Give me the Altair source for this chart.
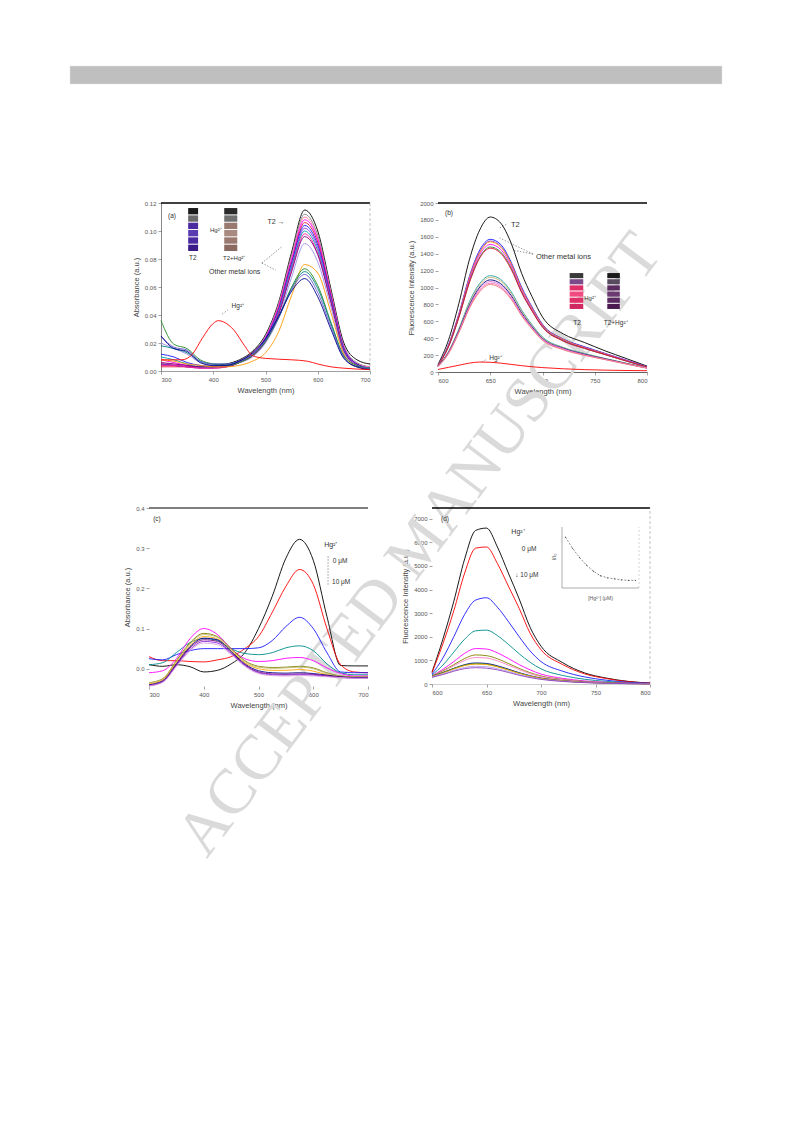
import altair as alt
import pandas as pd

FONT = "Liberation Sans"

# ---------------- panel (a): UV-vis of T2 with metal ions ----------------
wl_a = [300, 325, 350, 375, 400, 425, 450, 475, 500, 525, 550, 575, 600, 625, 650, 675, 700]
a_T2 = [0.005, 0.004, 0.003, 0.003, 0.004, 0.005, 0.008, 0.014, 0.026, 0.049, 0.085, 0.115, 0.100, 0.059, 0.020, 0.008, 0.005]
a_Na = [0.004, 0.004, 0.003, 0.003, 0.003, 0.004, 0.007, 0.013, 0.025, 0.048, 0.083, 0.112, 0.097, 0.057, 0.018, 0.006, 0.003]
a_K = [0.006, 0.005, 0.004, 0.003, 0.003, 0.004, 0.007, 0.013, 0.024, 0.047, 0.081, 0.110, 0.095, 0.056, 0.017, 0.005, 0.003]
a_Mg = [0.008, 0.006, 0.004, 0.003, 0.003, 0.004, 0.007, 0.012, 0.024, 0.046, 0.080, 0.108, 0.094, 0.055, 0.017, 0.005, 0.002]
a_Ca = [0.003, 0.003, 0.003, 0.003, 0.003, 0.004, 0.007, 0.012, 0.023, 0.045, 0.078, 0.106, 0.092, 0.054, 0.016, 0.005, 0.002]
a_Ba = [0.012, 0.010, 0.006, 0.004, 0.003, 0.004, 0.007, 0.012, 0.023, 0.044, 0.077, 0.104, 0.090, 0.053, 0.016, 0.005, 0.002]
a_Mn = [0.005, 0.004, 0.003, 0.002, 0.002, 0.003, 0.006, 0.011, 0.022, 0.043, 0.075, 0.102, 0.088, 0.052, 0.015, 0.004, 0.002]
a_Fe = [0.010, 0.008, 0.005, 0.003, 0.003, 0.004, 0.006, 0.011, 0.022, 0.042, 0.074, 0.100, 0.086, 0.051, 0.015, 0.004, 0.002]
a_Co = [0.004, 0.004, 0.003, 0.002, 0.002, 0.003, 0.006, 0.011, 0.021, 0.041, 0.072, 0.098, 0.084, 0.050, 0.014, 0.004, 0.001]
a_Ni = [0.006, 0.005, 0.004, 0.003, 0.003, 0.003, 0.006, 0.011, 0.021, 0.040, 0.071, 0.096, 0.083, 0.049, 0.014, 0.004, 0.001]
a_Cu = [0.020, 0.016, 0.012, 0.006, 0.004, 0.004, 0.006, 0.010, 0.020, 0.038, 0.067, 0.091, 0.078, 0.046, 0.013, 0.004, 0.001]
a_Zn = [0.008, 0.007, 0.005, 0.004, 0.003, 0.003, 0.004, 0.007, 0.013, 0.028, 0.054, 0.076, 0.070, 0.042, 0.012, 0.003, 0.001]
a_Cd = [0.036, 0.019, 0.016, 0.008, 0.005, 0.004, 0.006, 0.011, 0.021, 0.038, 0.060, 0.073, 0.061, 0.035, 0.011, 0.004, 0.002]
a_Pb = [0.018, 0.016, 0.013, 0.007, 0.005, 0.005, 0.007, 0.012, 0.022, 0.038, 0.059, 0.071, 0.059, 0.034, 0.010, 0.003, 0.002]
a_Ag = [0.025, 0.017, 0.015, 0.007, 0.005, 0.005, 0.007, 0.012, 0.022, 0.038, 0.058, 0.069, 0.056, 0.032, 0.010, 0.003, 0.002]
a_Al = [0.025, 0.016, 0.014, 0.006, 0.004, 0.004, 0.007, 0.013, 0.023, 0.039, 0.057, 0.066, 0.053, 0.030, 0.009, 0.003, 0.001]
wl_a_hg = [300, 340, 360, 380, 400, 410, 420, 440, 460, 475, 500, 550, 580, 600, 625, 650, 700]
a_Hg = [0.008, 0.008, 0.012, 0.024, 0.034, 0.036, 0.035, 0.029, 0.018, 0.011, 0.009, 0.008, 0.007, 0.005, 0.003, 0.002, 0.001]

names_a = ["T2", "Na+", "K+", "Mg2+", "Ca2+", "Ba2+", "Mn2+", "Fe3+", "Co2+", "Ni2+",
           "Cu2+", "Zn2+", "Cd2+", "Pb2+", "Ag+", "Al3+"]
series_a = [a_T2, a_Na, a_K, a_Mg, a_Ca, a_Ba, a_Mn, a_Fe, a_Co, a_Ni, a_Cu, a_Zn, a_Cd, a_Pb, a_Ag, a_Al]
colors_a = ["#000000", "#808080", "#ff77aa", "#ff00ff", "#e0103a", "#1a1aff", "#8a2be2", "#00a0b0",
            "#ff1493", "#800080", "#9a8ae8", "#ff9900", "#228b22", "#008080", "#6a5acd", "#00008b"]

# ---------------- panel (b): fluorescence of T2 with metal ions ----------------
wl_b = [600, 610, 620, 630, 640, 650, 660, 670, 680, 690, 700, 720, 740, 760, 780, 800]
b_T2 = [90, 376, 812, 1327, 1683, 1834, 1762, 1525, 1168, 891, 650, 450, 350, 250, 160, 70]
b_1 = [80, 320, 690, 1130, 1445, 1570, 1510, 1300, 1005, 770, 565, 390, 300, 220, 140, 65]
b_2 = [80, 315, 680, 1115, 1425, 1550, 1490, 1285, 990, 760, 555, 385, 295, 215, 140, 60]
b_3 = [78, 310, 675, 1110, 1415, 1540, 1480, 1280, 985, 755, 555, 385, 290, 215, 135, 60]
b_4 = [76, 305, 665, 1090, 1390, 1510, 1450, 1255, 965, 740, 545, 375, 285, 210, 135, 60]
b_5 = [75, 300, 650, 1065, 1360, 1480, 1420, 1230, 945, 725, 535, 370, 280, 205, 130, 58]
b_6 = [74, 295, 645, 1055, 1350, 1465, 1405, 1215, 940, 720, 530, 365, 280, 205, 130, 58]
b_7 = [70, 240, 510, 830, 1050, 1140, 1095, 950, 735, 560, 415, 290, 220, 160, 105, 50]
b_8 = [68, 235, 500, 815, 1030, 1120, 1075, 930, 720, 550, 405, 285, 215, 158, 102, 50]
b_9 = [68, 230, 490, 790, 1005, 1090, 1045, 905, 700, 535, 395, 280, 210, 155, 100, 48]
b_10 = [66, 225, 480, 775, 985, 1070, 1025, 890, 685, 525, 390, 275, 205, 150, 98, 47]
b_11 = [65, 220, 470, 760, 965, 1050, 1005, 870, 675, 515, 380, 268, 200, 148, 96, 46]
b_12 = [64, 215, 465, 750, 950, 1035, 990, 860, 665, 508, 375, 262, 198, 146, 95, 45]
b_Hg = [30, 55, 80, 105, 118, 115, 105, 90, 75, 62, 52, 38, 28, 22, 18, 15]

names_b = ["T2", "Ba2+", "Mn2+", "Zn2+", "Mg2+", "Cd2+", "Ca2+", "Pb2+", "Fe3+", "Al3+",
           "Ni2+", "Co2+", "K+", "Hg2+"]
series_b = [b_T2, b_1, b_2, b_3, b_4, b_5, b_6, b_7, b_8, b_9, b_10, b_11, b_12, b_Hg]
colors_b = ["#000000", "#1a1aff", "#7a3ae0", "#ff9900", "#ff00ff", "#2a8a2a", "#e0103a", "#20a0a0",
            "#c8b070", "#000080", "#da70d6", "#ff69b4", "#f08080", "#ff0000"]

# ---------------- panel (c): UV-vis titration with Hg2+ ----------------
wl_c = [300, 325, 350, 375, 400, 425, 450, 475, 500, 525, 550, 575, 600, 625, 650, 675, 700]
c_0 = [0.010, 0.006, 0.010, 0.005, -0.008, -0.004, 0.012, 0.040, 0.100, 0.180, 0.275, 0.322, 0.270, 0.130, 0.008, 0.007, 0.007]
c_1 = [0.030, 0.020, 0.020, 0.018, 0.017, 0.022, 0.030, 0.050, 0.080, 0.140, 0.205, 0.247, 0.210, 0.100, 0.010, -0.008, -0.010]
c_2 = [0.025, 0.022, 0.035, 0.045, 0.050, 0.050, 0.050, 0.050, 0.052, 0.070, 0.105, 0.128, 0.100, 0.040, -0.008, -0.010, -0.010]
c_3 = [0.010, 0.015, 0.040, 0.065, 0.075, 0.070, 0.050, 0.038, 0.035, 0.040, 0.052, 0.057, 0.045, 0.012, -0.010, -0.015, -0.015]
c_4 = [-0.010, -0.005, 0.025, 0.075, 0.100, 0.085, 0.050, 0.025, 0.018, 0.020, 0.026, 0.028, 0.020, 0.002, -0.012, -0.018, -0.018]
c_5 = [-0.035, -0.025, 0.020, 0.065, 0.088, 0.080, 0.050, 0.020, 0.006, 0.003, 0.004, 0.006, 0.002, -0.010, -0.018, -0.020, -0.020]
c_6 = [-0.035, -0.025, 0.018, 0.062, 0.085, 0.078, 0.048, 0.018, 0.004, 0.001, 0.002, 0.004, 0.000, -0.012, -0.019, -0.021, -0.021]
c_7 = [-0.038, -0.028, 0.015, 0.058, 0.080, 0.074, 0.045, 0.015, 0.000, -0.004, -0.004, -0.002, -0.006, -0.015, -0.020, -0.022, -0.022]
c_8 = [-0.040, -0.030, 0.012, 0.055, 0.076, 0.072, 0.043, 0.012, -0.005, -0.010, -0.011, -0.010, -0.012, -0.016, -0.020, -0.022, -0.022]
c_9 = [-0.042, -0.032, 0.010, 0.052, 0.072, 0.068, 0.040, 0.010, -0.008, -0.013, -0.014, -0.013, -0.014, -0.018, -0.021, -0.023, -0.023]
c_10 = [-0.042, -0.033, 0.008, 0.048, 0.068, 0.064, 0.038, 0.008, -0.010, -0.015, -0.016, -0.015, -0.016, -0.019, -0.022, -0.023, -0.023]
c_11 = [-0.043, -0.034, 0.005, 0.045, 0.064, 0.060, 0.035, 0.006, -0.012, -0.017, -0.018, -0.017, -0.018, -0.020, -0.022, -0.024, -0.024]

names_c = ["0 μM", "1 μM", "2 μM", "3 μM", "4 μM", "5 μM", "6 μM", "7 μM", "8 μM", "9 μM", "10 μM", "11 μM"]
series_c = [c_0, c_1, c_2, c_3, c_4, c_5, c_6, c_7, c_8, c_9, c_10, c_11]
colors_c = ["#000000", "#ff0000", "#1a1aff", "#008b8b", "#ff00ff", "#808000", "#bdb76b", "#ffa500",
            "#00008b", "#800080", "#8a2be2", "#dda0dd"]

# ---------------- panel (d): fluorescence titration with Hg2+ ----------------
wl_d = [600, 610, 620, 630, 640, 650, 660, 670, 680, 690, 700, 720, 740, 760, 780, 800]
d_0 = [500, 1900, 3500, 5300, 6500, 6600, 5800, 4700, 3600, 2400, 1600, 900, 470, 250, 110, 40]
d_1 = [480, 1700, 3100, 4700, 5750, 5800, 5100, 4150, 3200, 2150, 1450, 820, 430, 230, 100, 40]
d_2 = [420, 1100, 2000, 2950, 3550, 3650, 3250, 2650, 2000, 1400, 950, 540, 300, 160, 70, 30]
d_3 = [380, 800, 1350, 1900, 2250, 2280, 2050, 1680, 1280, 920, 640, 360, 200, 110, 50, 20]
d_4 = [350, 620, 950, 1300, 1500, 1480, 1320, 1080, 820, 600, 420, 240, 130, 70, 35, 15]
d_5 = [340, 560, 820, 1080, 1230, 1200, 1070, 870, 660, 480, 340, 195, 105, 55, 28, 12]
d_6 = [330, 530, 770, 1000, 1120, 1100, 980, 800, 610, 440, 310, 180, 95, 50, 25, 10]
d_7 = [320, 480, 660, 820, 890, 870, 770, 630, 480, 350, 250, 140, 75, 40, 20, 8]
d_8 = [330, 490, 660, 800, 860, 840, 740, 600, 460, 335, 240, 135, 72, 38, 18, 8]
d_9 = [310, 460, 630, 780, 840, 820, 725, 590, 450, 330, 235, 130, 70, 36, 17, 7]
d_10 = [300, 430, 580, 700, 750, 730, 650, 530, 400, 295, 210, 118, 62, 32, 15, 6]
d_11 = [280, 400, 540, 650, 690, 670, 600, 490, 370, 270, 195, 108, 57, 30, 14, 5]

names_d = names_c
series_d = [d_0, d_1, d_2, d_3, d_4, d_5, d_6, d_7, d_8, d_9, d_10, d_11]
colors_d = ["#000000", "#ff0000", "#1a1aff", "#008b8b", "#ff00ff", "#808000", "#ff80c0", "#00008b",
            "#228b22", "#ffa500", "#b0a0e8", "#9040c0"]

# inset of (d): relative intensity vs [Hg2+]
inset_conc = [0, 1, 2, 3, 4, 5, 6, 7, 8, 9, 10]
inset_ratio = [1.0, 0.78, 0.60, 0.45, 0.33, 0.24, 0.20, 0.18, 0.16, 0.15, 0.15]

# vial photo swatch colours (top to bottom)
swatch_a_T2 = ["#1a1a1a", "#6a6a6a", "#4b2aa0", "#5b3cb0", "#4b2aa0", "#3a1c88"]
swatch_a_Hg = ["#2a2a2a", "#707070", "#9a7a70", "#a88a80", "#9a7a70", "#8a6a60"]
swatch_b_T2 = ["#3a3a3a", "#7a4a8a", "#e0306a", "#f04a80", "#e0306a", "#d02860"]
swatch_b_Hg = ["#1a1a1a", "#5a4a60", "#5a2a60", "#6a3a70", "#5a2a60", "#4a1a50"]

# ---------------- page layout (pixels inside the canvas) ----------------
W, H = 720, 720
BOX_A = (153, 362, 195, 363)   # left, right, top, bottom
BOX_B = (430, 639, 195, 364)
BOX_C = (141, 360, 500, 678)
BOX_D = (424, 642, 500, 676)


# ---------------- helpers ----------------
def long_df(wl, series, names, colors):
    rows = []
    for n, vals, c in zip(names, series, colors):
        for w, v in zip(wl, vals):
            rows.append({"wl": w, "v": v, "s": n, "col": c})
    return pd.DataFrame(rows)


def mk_axis(values, fmt, title, orient, offset, domain=True, dcolor="#777777"):
    return alt.Axis(values=values, format=fmt, title=title, orient=orient, offset=offset,
                    labelFontSize=6, titleFontSize=7.5,
                    labelColor="#555555", titleColor="#444444", tickColor="#666666", tickSize=3,
                    tickWidth=0.6, domain=domain, domainColor=dcolor, domainWidth=0.7, grid=False,
                    labelFont=FONT, titleFont=FONT, labelPadding=2, titlePadding=4,
                    titleFontWeight="normal")


def swatch_df(x0, x1, top, bottom, colors, gap):
    step = (top - bottom) / len(colors)
    rows = []
    for i, c in enumerate(colors):
        rows.append({"x": x0, "x2": x1, "y": top - i * step, "y2": top - (i + 1) * step + gap, "c": c})
    return pd.DataFrame(rows)


def panel(box, wl, series, names, colors, xdom, ydom, xvals, xfmt, yvals, yfmt, ytitle,
          texts, rules, swatches, xdomain=True, xdcolor="#777777", ydomain=True, ydcolor="#555555",
          extra_lines=None, right_frame=False, top_color="#000000"):
    left, right, top, bottom = box
    xs = alt.Scale(domain=xdom, range=[left, right], nice=False, zero=False)
    ys = alt.Scale(domain=ydom, range=[bottom, top], nice=False, zero=False)
    xax = mk_axis(xvals, xfmt, "Wavelength (nm)", "bottom", -(H - bottom), xdomain, xdcolor)
    yax = mk_axis(yvals, yfmt, ytitle, "left", -left, ydomain, ydcolor)
    X = lambda f: alt.X(f, type="quantitative", scale=xs, axis=xax)
    Y = lambda f: alt.Y(f, type="quantitative", scale=ys, axis=yax)
    layers = []
    frame = pd.DataFrame({"x": [xdom[0]], "x2": [xdom[1]], "y": [ydom[1]], "y2": [ydom[1]]})
    layers.append(alt.Chart(frame).mark_rule(color=top_color, strokeWidth=1.4).encode(
        x=X("x"), x2="x2", y=Y("y"), y2="y2"))
    if right_frame:
        rf = pd.DataFrame({"x": [xdom[1]], "x2": [xdom[1]], "y": [ydom[0]], "y2": [ydom[1]]})
        layers.append(alt.Chart(rf).mark_rule(color="#aaaaaa", strokeWidth=0.7, strokeDash=[3, 2]).encode(
            x=X("x"), x2="x2", y=Y("y"), y2="y2"))
    df = long_df(wl, series, names, colors)
    layers.append(alt.Chart(df).mark_line(interpolate="monotone", strokeWidth=0.9).encode(
        x=X("wl"), y=Y("v"), detail="s:N", color=alt.Color("col:N", scale=None)))
    if extra_lines:
        for (ewl, evals, ecol) in extra_lines:
            layers.append(alt.Chart(pd.DataFrame({"wl": ewl, "v": evals})).mark_line(
                interpolate="monotone", strokeWidth=0.9, color=ecol).encode(x=X("wl"), y=Y("v")))
    for sdf in swatches:
        layers.append(alt.Chart(sdf).mark_rect().encode(
            x=X("x"), x2="x2", y=Y("y"), y2="y2", color=alt.Color("c:N", scale=None)))
    if rules is not None:
        layers.append(alt.Chart(rules).mark_rule(strokeWidth=0.6, color="#555555", strokeDash=[1.5, 1.5]).encode(
            x=X("x"), x2="x2", y=Y("y"), y2="y2"))
    for size in sorted(texts["size"].unique()):
        sub = texts[texts["size"] == size]
        layers.append(alt.Chart(sub).mark_text(font=FONT, fontSize=float(size), color="#333333",
                                               align="center", baseline="middle").encode(
            x=X("x"), y=Y("y"), text="t:N"))
    return alt.layer(*layers)


# ---------------- panel (a) ----------------
texts_a = pd.DataFrame({
    "t": ["(a)", "T2", "T2+Hg²⁺", "Hg²⁺", "T2 →", "Other metal ions", "Hg²⁺"],
    "x": [321, 361, 440, 405, 520, 441, 447],
    "y": [0.111, 0.0805, 0.0805, 0.1005, 0.1064, 0.0707, 0.0464],
    "size": [6.5, 6.5, 6, 6, 7, 7, 6.5]})
rules_a = pd.DataFrame({"x": [493, 493, 417], "y": [0.0771, 0.0771, 0.0407],
                        "x2": [533, 520, 428], "y2": [0.0893, 0.0720, 0.0436]})
sw_a = [swatch_df(352, 371, 0.1164, 0.085, swatch_a_T2, 0.0007),
        swatch_df(421, 446, 0.1164, 0.085, swatch_a_Hg, 0.0007)]
pa = panel(BOX_A, wl_a, series_a, names_a, colors_a, [300, 700], [0, 0.12],
           [300, 400, 500, 600, 700], "d", [0, 0.02, 0.04, 0.06, 0.08, 0.10, 0.12], ".2f",
           "Absorbance (a.u.)", texts_a, rules_a, sw_a,
           extra_lines=[(wl_a_hg, a_Hg, "#ff0000")], right_frame=True)

# ---------------- panel (b) ----------------
texts_b = pd.DataFrame({
    "t": ["(b)", "T2", "Other metal ions", "Hg²⁺", "T2", "T2+Hg²⁺", "Hg²⁺"],
    "x": [610.5, 674, 720, 745.5, 733, 770, 655],
    "y": [1882, 1740, 1361, 876, 580, 580, 166],
    "size": [6.5, 7.5, 7.5, 6, 6.5, 6.5, 6.5]})
rules_b = pd.DataFrame({"x": [659, 691, 691, 642], "y": [1704, 1396, 1396, 118],
                        "x2": [666, 659, 671, 647], "y2": [1751, 1586, 1444, 154]})
sw_b = [swatch_df(726, 739, 1171, 734, swatch_b_T2, 12),
        swatch_df(762, 774, 1171, 734, swatch_b_Hg, 12)]
pb = panel(BOX_B, wl_b, series_b, names_b, colors_b, [600, 800], [0, 2000],
           [600, 650, 700, 750, 800], "d", list(range(0, 2001, 200)), "d",
           "Fluorescence Intensity (a.u.)", texts_b, rules_b, sw_b,
           xdcolor="#222222", ydomain=False)

# ---------------- panel (c) ----------------
texts_c = pd.DataFrame({
    "t": ["(c)", "Hg²⁺", "0 μM", "10 μM"],
    "x": [314.6, 632, 649, 651],
    "y": [0.373, 0.308, 0.268, 0.216],
    "size": [6.5, 7, 6.5, 6.5]})
rules_c = pd.DataFrame({"x": [627], "y": [0.280], "x2": [627], "y2": [0.208]})
pc = panel(BOX_C, wl_c, series_c, names_c, colors_c, [300, 700], [-0.043, 0.4],
           [300, 400, 500, 600, 700], "d", [0, 0.1, 0.2, 0.3, 0.4], ".1f",
           "Absorbance (a.u.)", texts_c, rules_c, [],
           xdomain=False, ydomain=False, top_color="#555555")

# ---------------- panel (d) ----------------
texts_d = pd.DataFrame({
    "t": ["(d)", "Hg²⁺", "0 μM", "↓ 10 μM"],
    "x": [611.9, 678.9, 689, 687],
    "y": [6984, 6434, 5714, 4614],
    "size": [6.5, 7, 6.5, 6.5]})
pdm = panel(BOX_D, wl_d, series_d, names_d, colors_d, [600, 800], [0, 7450],
            [600, 650, 700, 750, 800], "d", list(range(0, 7001, 1000)), "d",
            "Fluorescence Intensity (a.u.)", texts_d, None, [],
            xdcolor="#bbbbbb", ydomain=False, right_frame=True)

# inset inside (d)
dl, dr, dt, db = BOX_D
ixs = alt.Scale(domain=[-0.5, 10.5], range=[dl + 130, dl + 207], nice=False, zero=False)
iys = alt.Scale(domain=[0, 1.2], range=[dt + 80, dt + 19], nice=False, zero=False)
IX = lambda f: alt.X(f, type="quantitative", scale=ixs, axis=None)
IY = lambda f: alt.Y(f, type="quantitative", scale=iys, axis=None)
inset_df = pd.DataFrame({"c": inset_conc, "r": inset_ratio})
inset_frame = pd.DataFrame({"x": [-0.5, -0.5], "y": [0, 0], "x2": [-0.5, 10.5], "y2": [1.2, 0]})
inset_right = pd.DataFrame({"x": [10.5], "y": [0], "x2": [10.5], "y2": [1.2]})
inset_texts = pd.DataFrame({"t": ["[Hg²⁺] (μM)"], "x": [5.0], "y": [-0.2]})
inset_ytext = pd.DataFrame({"t": ["I/I₀"], "x": [-1.6], "y": [0.61]})
inset = alt.layer(
    alt.Chart(inset_frame).mark_rule(color="#777777", strokeWidth=0.6).encode(
        x=IX("x"), x2="x2", y=IY("y"), y2="y2"),
    alt.Chart(inset_right).mark_rule(color="#bbbbbb", strokeWidth=0.6, strokeDash=[2, 2]).encode(
        x=IX("x"), x2="x2", y=IY("y"), y2="y2"),
    alt.Chart(inset_df).mark_line(color="#444444", strokeWidth=0.6, strokeDash=[2, 1.5]).encode(
        x=IX("c"), y=IY("r")),
    alt.Chart(inset_df).mark_point(color="#333333", size=2, filled=True).encode(x=IX("c"), y=IY("r")),
    alt.Chart(inset_texts).mark_text(font=FONT, fontSize=5, color="#555555").encode(
        x=IX("x"), y=IY("y"), text="t:N"),
    alt.Chart(inset_ytext).mark_text(font=FONT, fontSize=5.5, color="#555555", angle=270).encode(
        x=IX("x"), y=IY("y"), text="t:N"),
)

# ---------------- page decorations: grey header band and watermark ----------------
page_deco = alt.layer(
    alt.Chart(pd.DataFrame({"t": ["ACCEPTED MANUSCRIPT"]})).mark_text(
        font="Liberation Serif", fontSize=64, color="#dadada", angle=307, align="center",
        baseline="middle").encode(text="t:N", x=alt.value(412), y=alt.value(537)),
    alt.Chart(pd.DataFrame({"z": [0]})).mark_rect(color="#bfbfbf", stroke="#e6e6e6", strokeWidth=0.5).encode(
        x=alt.value(62), x2=alt.value(714), y=alt.value(58), y2=alt.value(76)),
)

chart = alt.layer(page_deco, pa, pb, pc, pdm, inset).resolve_scale(
    x="independent", y="independent").resolve_axis(x="independent", y="independent").properties(
    width=W, height=H, padding=0, background="white").configure_view(stroke=None)

chart.save("out.html", embed_options={"renderer": "svg", "actions": False})
